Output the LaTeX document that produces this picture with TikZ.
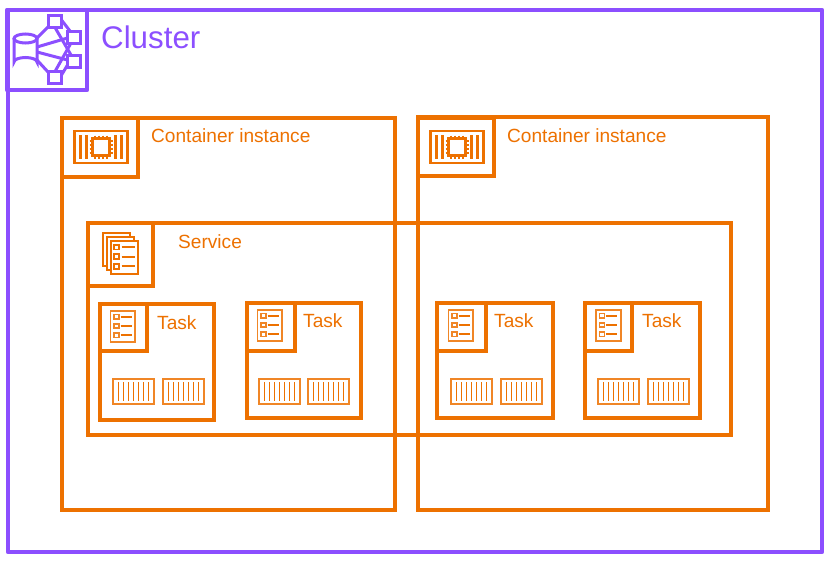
\documentclass[tikz,border=0pt]{standalone}
\usepackage{fontspec}
\setmainfont{Liberation Sans}
\definecolor{awsorange}{HTML}{ED7100}
\definecolor{awspurple}{HTML}{8C4FFF}
\colorlet{softorange}{awsorange!85!white}
\tikzset{
  x=1pt,y=-1pt,
  obox/.style={draw=awsorange,line width=4.2pt,line join=miter},
  pbox/.style={draw=awspurple,line width=4.2pt,line join=round},
  oicon/.style={draw=awsorange,line width=1.6pt},
  olabel/.style={text=awsorange,anchor=base west,inner sep=0pt,font=\fontsize{19.1}{22}\selectfont},
  pics/chipicon/.style={code={
    \draw[oicon,line width=2.6pt] (0,0) rectangle (53,32);
    \foreach \xx in {6,12,41,47}{\draw[oicon,line width=2.2pt] (\xx,4) -- (\xx,28);}
    \draw[oicon,line width=2.6pt] (18,7.5) rectangle (35,24.5);
    \foreach \xx in {20.5,24.5,28.5,32.5}{\draw[oicon,line width=1.8pt] (\xx,4.5) -- (\xx,7.5) (\xx,24.5) -- (\xx,27.5);}
    \foreach \yy in {10,14,18,22}{\draw[oicon,line width=1.8pt] (15,\yy) -- (18,\yy) (35,\yy) -- (38,\yy);}
  }},
  pics/listtwo/.style={code={
    \foreach \yy in {0,9.7,19.4}{
      \draw[oicon,line width=1.8pt] (0,\yy-2.4) rectangle (5,\yy+2.4);
      \draw[oicon,line width=2pt] (7.5,\yy) -- (20.5,\yy);
    }
  }},
  pics/listone/.style={code={
    \foreach \yy in {0,9.3,18.6}{
      \draw[draw=softorange,line width=1.5pt] (0,\yy-2.2) rectangle (4.7,\yy+2.2);
      \draw[draw=awsorange,line width=1.8pt] (6.5,\yy) -- (17.7,\yy);
    }
  }},
  pics/taskicon/.style={code={
    \draw[draw=softorange,line width=1.8pt] (0,0) rectangle (24.7,31.6);
    \begin{scope}[shift={(3.7,6)}]\pic{listone};\end{scope}
  }},
  pics/boxicon/.style={code={
    \draw[draw=softorange,line width=2.1pt] (0,0) rectangle (40.7,25.3);
    \foreach \xx in {5.3,10.3,15.3,20.3,25.3,30.3,35.3}{\draw[draw=awsorange,line width=1.6pt] (\xx,3.5) -- (\xx,22);}
  }},
}
\begin{document}
\begin{tikzpicture}
\useasboundingbox (0,0) rectangle (830,560);
\fill[white] (0,0) rectangle (830,560);
% cluster
\draw[pbox] (8,10) rectangle (822,552);
\draw[pbox] (7,10) rectangle (87,90);
\node[text=awspurple,anchor=base west,inner sep=0pt,font=\fontsize{31.3}{36}\selectfont] (clusterlabel) at (101,48) {Cluster};
% cluster icon
\begin{scope}[draw=awspurple,line width=3pt]
  \draw (14,38.5) -- (14,62) arc[start angle=180,end angle=360,x radius=11.5,y radius=4.5] -- (37,38.5);
  \draw (25.5,38.5) ellipse[x radius=11.5,y radius=4.5];
  \draw (48,15.5) rectangle (61.5,27.5);
  \draw (67.5,31) rectangle (80.5,43);
  \draw (67.5,55) rectangle (80.5,67);
  \draw (48,71.5) rectangle (61.5,83);
  \draw (37,38) -- (48,27);
  \draw (37,47) -- (67.5,38);
  \draw (37,52) -- (67.5,60);
  \draw (37,60) -- (48,72);
  \draw (61.5,20) -- (70,31);
  \draw (55,27.5) -- (71,55);
  \draw (71,43) -- (55,71.5);
  \draw (67.5,65) -- (61.5,75);
\end{scope}
% instances
\draw[obox] (62,118) rectangle (395,510);
\draw[obox] (418,117) rectangle (768,510);
\draw[obox] (62,118) rectangle (138,177);
\draw[obox] (418,118) rectangle (494,176);
\node[olabel] (inst1) at (151,142) {Container instance};
\node[olabel] (inst2) at (507,142) {Container instance};
\pic at (74.5,131) {chipicon};
\pic at (430.5,131) {chipicon};
% service
\draw[obox] (88,223) rectangle (731,435);
\draw[obox] (88,223) rectangle (153,286);
\node[olabel] (service) at (178,248) {Service};
\draw[oicon,line width=2pt,fill=white] (103,233) rectangle (130,266);
\draw[oicon,line width=2pt,fill=white] (107,237) rectangle (134,270);
\draw[oicon,line width=2pt,fill=white] (111,241) rectangle (138,274);
\pic at (114.2,247) {listtwo};
% tasks
\draw[obox] (100,304) rectangle (214,420);
\draw[obox] (100,304) rectangle (147,351);
\draw[obox] (247,303) rectangle (361,418);
\draw[obox] (247,303) rectangle (295,351);
\draw[obox] (437,303) rectangle (553,418);
\draw[obox] (437,303) rectangle (486,351);
\draw[obox] (585,303) rectangle (700,418);
\draw[obox] (585,303) rectangle (632,351);
\node[olabel] (task1) at (157,329) {Task};
\node[olabel] (task2) at (303,327) {Task};
\node[olabel] (task3) at (494,327) {Task};
\node[olabel] (task4) at (642,327) {Task};
\pic at (110.5,310.7) {taskicon};
\pic at (257.5,309.7) {taskicon};
\pic at (448.5,309.7) {taskicon};
\pic at (596,309.7) {taskicon};
\foreach \xx in {113,163,259,308,451,501,598,648}{\pic at (\xx,378.7) {boxicon};}
\end{tikzpicture}
\end{document}
